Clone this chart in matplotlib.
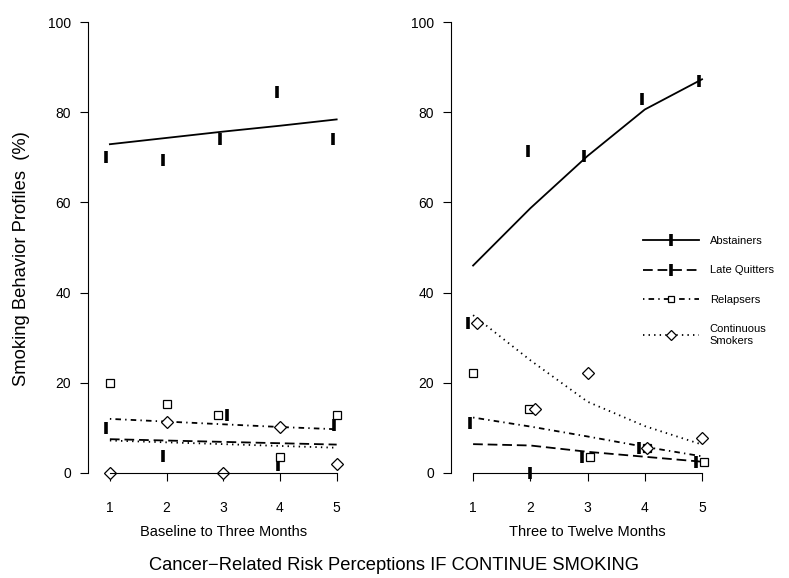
import matplotlib
matplotlib.use('Agg')
import matplotlib.pyplot as plt
from matplotlib.lines import Line2D
from matplotlib.transforms import blended_transform_factory

plt.rcParams['font.family'] = ['Liberation Sans', 'DejaVu Sans']
plt.rcParams['lines.scale_dashes'] = False

x = [1, 2, 3, 4, 5]
yticks = [0, 20, 40, 60, 80, 100]

# Baseline to Three Months: observed %, fitted %
abst_obs_b = [70.1, 69.3, 74.0, 84.5, 74.0]
late_obs_b = [9.9, 3.8, 12.9, 1.8, 10.6]
rel_obs_b = [20.0, 15.3, 12.9, 3.5, 12.9]
cont_obs_b = [0.0, 11.4, 0.0, 10.1, 2.1]
abst_fit_b = [72.9, 74.3, 75.7, 77.0, 78.4]
late_fit_b = [7.5, 7.2, 6.9, 6.6, 6.3]
rel_fit_b = [12.0, 11.4, 10.8, 10.2, 9.7]
cont_fit_b = [7.2, 6.8, 6.4, 6.0, 5.6]

# Three to Twelve Months
abst_obs_t = [33.3, 71.4, 70.3, 82.9, 86.9]
late_obs_t = [11.0, 0.0, 3.6, 5.6, 2.4]
rel_obs_t = [22.1, 14.2, 3.6, 5.6, 2.4]
cont_obs_t = [33.2, 14.2, 22.1, 5.6, 7.7]
abst_fit_t = [46.0, 58.7, 70.3, 80.6, 87.3]
late_fit_t = [6.4, 6.1, 4.7, 3.6, 2.5]
rel_fit_t = [12.3, 10.3, 8.1, 5.8, 3.7]
cont_fit_t = [35.0, 25.0, 15.8, 10.4, 6.3]

labels = ['Abstainers', 'Late Quitters', 'Relapsers', 'Continuous\nSmokers']

# small horizontal jitter of the observed points
jit_b = [[-.06]*5, [-.06, -.06, .07, -.04, -.05], [0, 0, -.1, 0, 0], [0]*5]
jit_t = [[-.09, -.04, -.06, -.05, -.06], [-.05, 0, -.1, -.1, -.1], [0, -.02, .04, .04, .04], [.06, .09, 0, .04, 0]]

styles = [dict(ls='-'), dict(ls=(0, (7, 3.5))), dict(ls=(0, (1, 3, 4, 3))), dict(ls=(0, (1, 3)))]
marks = [dict(marker='|', ms=9, mew=2.6), dict(marker='|', ms=9, mew=2.6),
         dict(marker='s', ms=6, mew=0.9, mfc='white'), dict(marker='D', ms=6.5, mew=0.9, mfc='white')]

fig = plt.figure(figsize=(7.89, 5.78), dpi=100)
ax1 = fig.add_axes([88/789, 105/578, 260/789, 451/578])
ax2 = fig.add_axes([451/789, 105/578, 262.5/789, 451/578])

def panel(ax, obs, fits, jit, xlabel):
    for o, f, j, s, m in zip(obs, fits, jit, styles, marks):
        ax.plot(x, f, color='black', lw=1.3, **s)
        ax.plot([a + b for a, b in zip(x, j)], o, ls='none', color='black', clip_on=False, **m)
    ax.set_xlim(0.614, 5.2)
    ax.set_ylim(0, 100)
    for sp in ('top', 'right'):
        ax.spines[sp].set_visible(False)
    ax.spines['bottom'].set_bounds(1, 5)
    ax.spines['left'].set_bounds(0, 100)
    ax.set_xticks(x)
    ax.set_yticks(yticks)
    ax.tick_params(axis='x', length=6, pad=14.5, labelsize=10)
    ax.tick_params(axis='y', length=5.8, pad=6.5, labelsize=10)
    ax.text(3, -13.0, xlabel, transform=blended_transform_factory(ax.transData, ax.transData),
            ha='center', va='center', fontsize=10.5)

panel(ax1, [abst_obs_b, late_obs_b, rel_obs_b, cont_obs_b],
      [abst_fit_b, late_fit_b, rel_fit_b, cont_fit_b], jit_b, 'Baseline to Three Months')
panel(ax2, [abst_obs_t, late_obs_t, rel_obs_t, cont_obs_t],
      [abst_fit_t, late_fit_t, rel_fit_t, cont_fit_t], jit_t, 'Three to Twelve Months')

handles = [Line2D([], [], color='black', lw=1.3, **s, **m) for s, m in zip(styles, marks)]
handles[2].set_markersize(4.5)
handles[3].set_markersize(5.5)
leg = fig.legend(handles, labels, loc='upper left', bbox_to_anchor=(643/789, 1 - 236/578),
                 frameon=False, fontsize=8, handlelength=5, handletextpad=1, labelspacing=1.75,
                 borderaxespad=0, borderpad=0, numpoints=1)
for t in leg.get_texts():
    t.set_linespacing(1.25)

fig.text(22/789, 1 - 259/578, 'Smoking Behavior Profiles  (%)', rotation=90,
         ha='center', va='center', fontsize=13.2)
fig.text(394/789, 1 - 566/578, 'Cancer\u2212Related Risk Perceptions IF CONTINUE SMOKING',
         ha='center', va='center', fontsize=13.2)

fig.savefig('out.png', dpi=100)
